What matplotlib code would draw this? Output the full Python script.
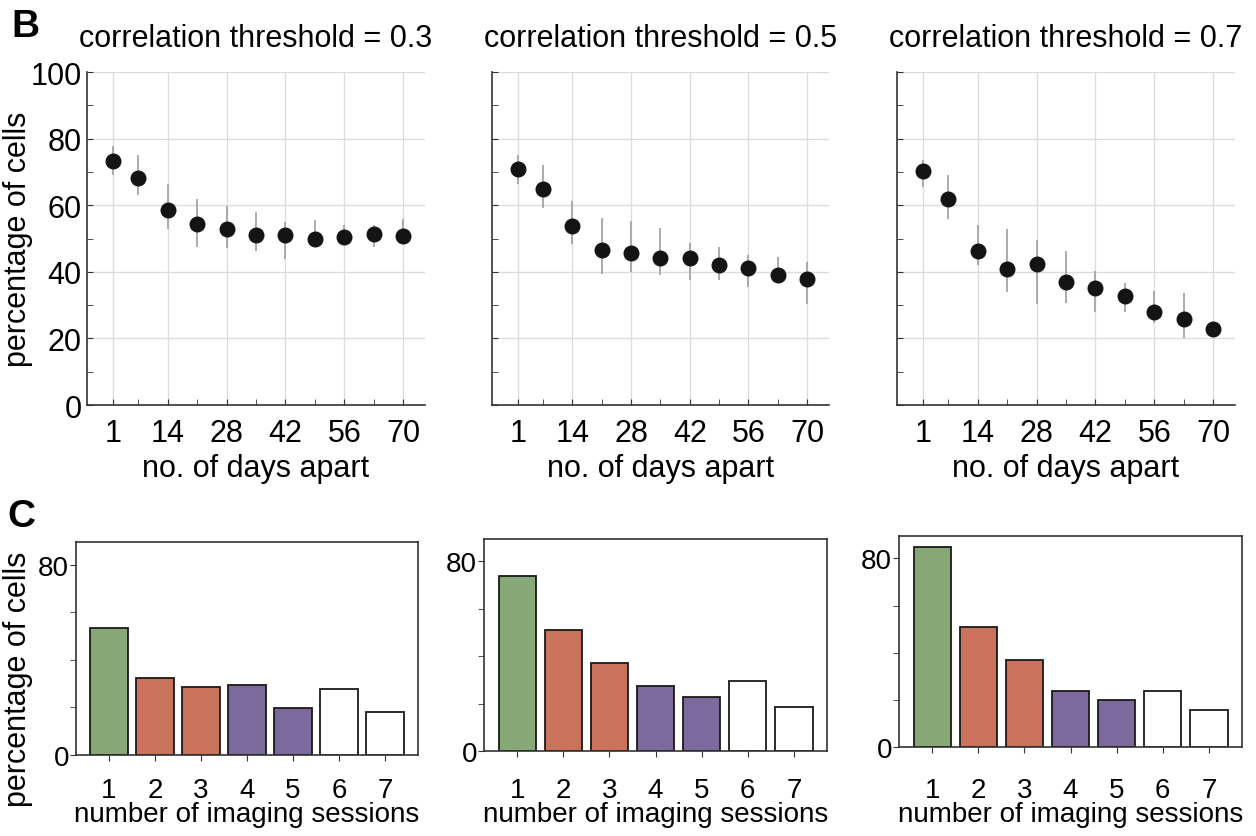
import numpy as np
import matplotlib
matplotlib.use("Agg")
from matplotlib import pyplot as plt

plt.rcParams['font.family'] = ['Liberation Sans', 'DejaVu Sans']

# panel B: percentage of cells vs days apart
days = [1, 7, 14, 21, 28, 35, 42, 49, 56, 63, 70]
day_labels = [1, 14, 28, 42, 56, 70]
thresholds = ['0.3', '0.5', '0.7']

pct_03 = [73.2, 68.3, 58.7, 54.5, 53.0, 51.0, 51.0, 50.0, 50.5, 51.5, 50.7]
lo_03 = [69.0, 63.0, 53.0, 47.5, 47.2, 46.3, 44.0, 48.0, 48.0, 47.5, 48.5]
hi_03 = [77.7, 75.2, 66.3, 62.0, 59.8, 58.0, 55.0, 55.5, 54.0, 54.0, 56.0]

pct_05 = [71.0, 65.0, 53.7, 46.5, 45.7, 44.3, 44.3, 42.0, 41.2, 39.2, 38.0]
lo_05 = [66.5, 59.2, 48.3, 39.5, 40.0, 39.0, 37.5, 37.5, 35.5, 36.5, 30.2]
hi_05 = [75.0, 72.0, 61.3, 56.3, 55.2, 53.2, 48.8, 47.5, 45.0, 44.4, 43.0]

pct_07 = [70.2, 61.8, 46.2, 40.8, 42.4, 36.8, 35.2, 32.8, 28.0, 25.8, 22.8]
lo_07 = [65.5, 56.0, 42.0, 34.0, 30.2, 30.5, 27.8, 28.0, 24.5, 20.2, 20.5]
hi_07 = [73.7, 69.0, 54.0, 53.0, 49.5, 46.3, 40.2, 36.7, 34.3, 33.7, 25.0]

# panel C: percentage of cells vs number of imaging sessions
sessions = [1, 2, 3, 4, 5, 6, 7]
bars_03 = [53.3, 32.3, 28.6, 29.5, 19.9, 27.6, 18.1]
bars_05 = [73.8, 51.0, 37.0, 27.3, 22.9, 29.5, 18.6]
bars_07 = [84.9, 50.9, 36.9, 23.9, 19.8, 23.9, 15.9]

green = '#86a876'
red = '#c9735c'
purple = '#7b6a9b'
bar_colors = [green, red, red, purple, purple, 'white', 'white']

fig = plt.figure(figsize=(12.56, 8.37), dpi=100)

top_pos = [[0.0693, 0.5149, 0.2691, 0.3978],
           [0.3917, 0.5149, 0.2683, 0.3978],
           [0.7142, 0.5149, 0.2691, 0.3978]]
bot_pos = [[0.0605, 0.0968, 0.2723, 0.2545],
           [0.3854, 0.1016, 0.2731, 0.2533],
           [0.7158, 0.1063, 0.2731, 0.2521]]
# bottom axes sit at slightly different heights, labels line up anyway
bot_pads = [11.5, 14.4, 17.3]

fs = 22
fs_bot = 20
top_data = [(pct_03, lo_03, hi_03), (pct_05, lo_05, hi_05), (pct_07, lo_07, hi_07)]
bot_data = [bars_03, bars_05, bars_07]

for i in range(3):
    ax = fig.add_axes(top_pos[i])
    y, lo, hi = [np.array(a) for a in top_data[i]]
    ax.errorbar(days, y, yerr=[y - lo, hi - y], fmt='o', color='#141414',
                ecolor='#a5a5a5', elinewidth=1.3, markersize=10.5, capsize=0,
                zorder=3)
    ax.set_xlim(-5.2, 75.2)
    ax.set_ylim(0, 100)
    ax.set_xticks(days, minor=True)
    ax.set_xticks(day_labels)
    ax.set_yticks(np.arange(0, 101, 20))
    ax.set_yticks(np.arange(0, 101, 10), minor=True)
    ax.grid(True, which='major', color='#dcdcdc', linewidth=1)
    ax.set_axisbelow(True)
    for s in ['top', 'right']:
        ax.spines[s].set_visible(False)
    for s in ['left', 'bottom']:
        ax.spines[s].set_color('#333333')
        ax.spines[s].set_linewidth(1.2)
    ax.tick_params(which='both', direction='in', length=4, color='#333333',
                   labelsize=fs, pad=4)
    ax.tick_params(axis='x', pad=9)
    if i == 0:
        ax.set_ylabel('percentage of cells', fontsize=fs)
        ax.yaxis.set_label_coords(-0.16, 0.5)
    else:
        ax.set_yticklabels([])
    ax.set_xlabel('no. of days apart', fontsize=fs, labelpad=4)
    ax.set_title('correlation threshold = ' + thresholds[i], fontsize=fs,
                 pad=19)

for i in range(3):
    ax = fig.add_axes(bot_pos[i])
    ax.bar(sessions, bot_data[i], width=0.81, color=bar_colors,
           edgecolor='#1a1a1a', linewidth=1.3)
    ax.set_xlim(0.28, 7.72)
    ax.set_ylim(0, 89.5)
    ax.set_xticks(sessions)
    ax.set_yticks([0, 80])
    ax.set_yticks([20, 40, 60], minor=True)
    for s in ax.spines.values():
        s.set_color('#333333')
        s.set_linewidth(1.2)
    ax.tick_params(which='both', direction='out', length=4, color='#333333',
                   labelsize=fs_bot, pad=1)
    ax.tick_params(axis='x', pad=bot_pads[i])
    if i == 0:
        ax.set_ylabel('percentage of cells', fontsize=fs)
        ax.yaxis.set_label_coords(-0.125, 0.36)
    ax.set_xlabel('number of imaging sessions', fontsize=fs_bot, labelpad=-1)

fig.text(0.009, 0.956, 'B', fontsize=28, fontweight='bold')
fig.text(0.006, 0.370, 'C', fontsize=28, fontweight='bold')

fig.savefig('out.png', dpi=100)
